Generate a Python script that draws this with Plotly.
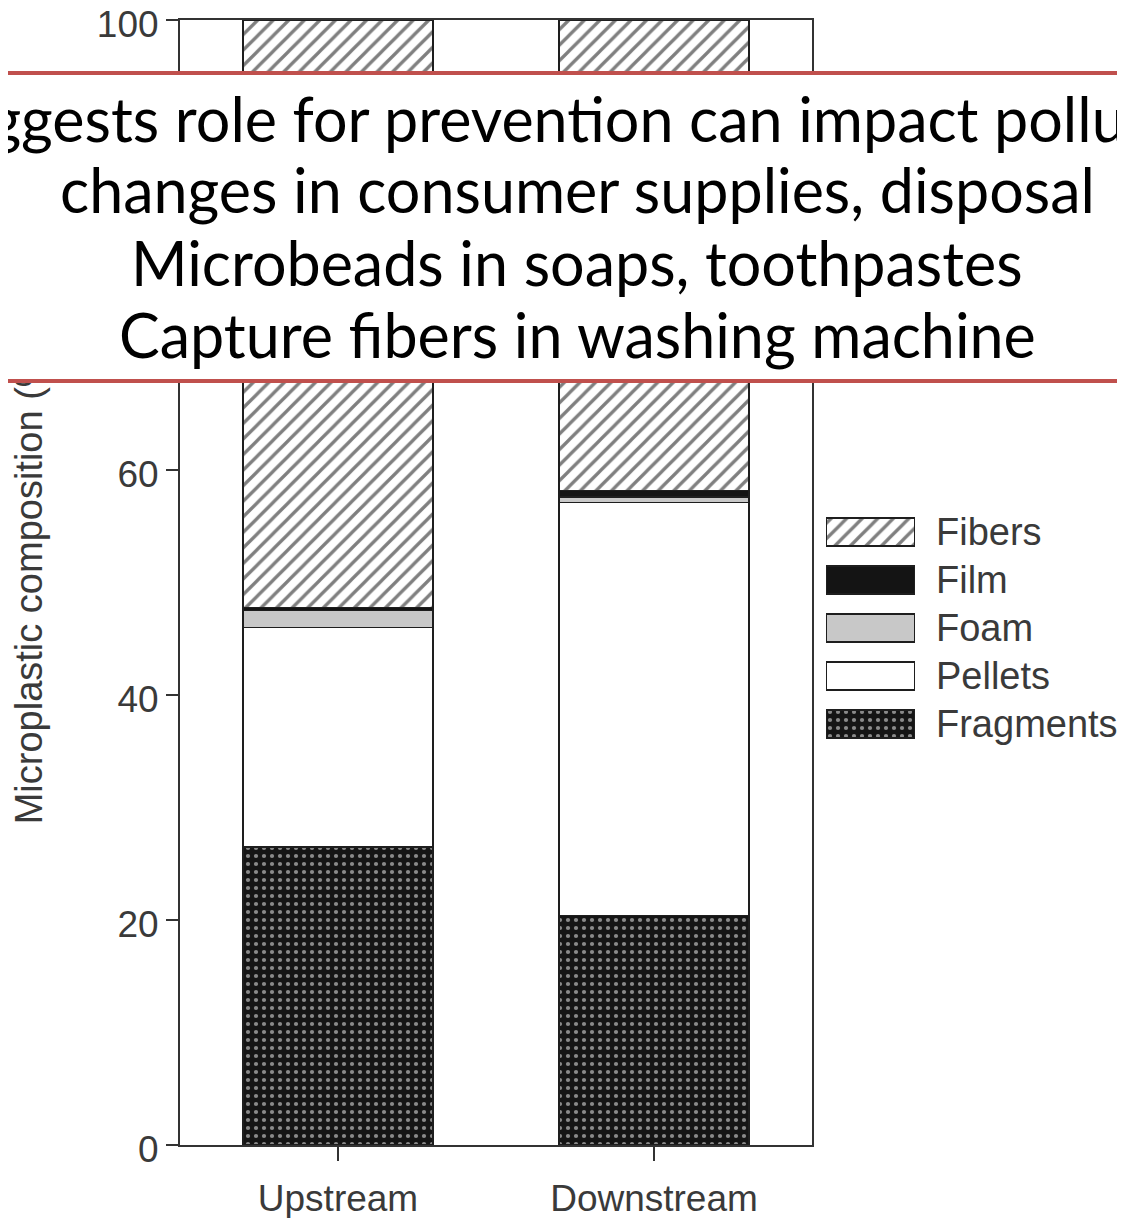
import plotly.graph_objects as go

# ---- data ----
sites = ["Upstream", "Downstream"]
types = ["Fragments", "Pellets", "Foam", "Film", "Fibers"]
fragments = [26.5, 20.4]
pellets = [19.5, 36.7]
foam = [1.5, 0.5]
film = [0.3, 0.6]
fibers = [52.2, 41.8]
values = {"Fragments": fragments, "Pellets": pellets, "Foam": foam, "Film": film, "Fibers": fibers}
y_ticks = [0, 20, 40, 60, 80, 100]
overlay_lines = [
    "Suggests role for prevention can impact pollution",
    "changes in consumer supplies, disposal",
    "Microbeads in soaps, toothpastes",
    "Capture fibers in washing machine",
]

# ---- styles ----
edge = "#1e1e1e"
styles = {
    "Fragments": dict(color="#151515", pattern=dict(shape=".", bgcolor="#151515", fgcolor="#ffffff", size=8, solidity=0.22)),
    "Pellets": dict(color="white"),
    "Foam": dict(color="#c8c8c8"),
    "Film": dict(color="#141414"),
    "Fibers": dict(color="white", pattern=dict(shape="/", bgcolor="white", fgcolor="#000000", size=11, solidity=0.3)),
}

OFF = 8  # page body margin
W, H = 1125 - OFF, 1218 - OFF
ml, mr, mt, mb = 180 - OFF, 5, 20 - OFF, 73
pw = W - ml - mr
ph = H - mt - mb

def px_x(x):  # page pixel -> paper x
    return (x - OFF - ml) / pw

def px_y(y):  # page pixel -> paper y
    return (H - mb - (y - OFF)) / ph

fig = go.Figure()
for t in types:
    fig.add_trace(go.Bar(
        x=sites, y=values[t], name=t, width=0.6,
        marker=dict(**styles[t], line=dict(color=edge, width=1.5)),
        showlegend=False, xaxis="x", yaxis="y",
    ))

# custom legend as a small horizontal bar axis
for t in types:
    fig.add_trace(go.Bar(
        x=[1], y=[t], orientation="h", width=0.58,
        marker=dict(**styles[t], line=dict(color=edge, width=1.5)),
        showlegend=False, xaxis="x2", yaxis="y2", hoverinfo="skip",
    ))

tickfont = dict(family="Liberation Sans, Arial", size=37, color="#3a3a3a")
fig.update_layout(
    width=W, height=H,
    margin=dict(l=ml, r=mr, t=mt, b=mb, autoexpand=False),
    plot_bgcolor="white", paper_bgcolor="white",
    barmode="stack", bargap=0.4,
    xaxis=dict(domain=[0, px_x(812)], range=[-0.5, 1.5], showline=True, mirror=True,
               linecolor="#333", linewidth=2, ticks="outside", ticklen=14, tickwidth=2,
               tickcolor="#333", tickfont=tickfont, showgrid=False, zeroline=False,
               ticklabelstandoff=6, automargin=False),
    yaxis=dict(domain=[0, 1], range=[0, 100], tickvals=y_ticks, showline=True, mirror=True,
               linecolor="#333", linewidth=2, ticks="outside", ticklen=12, tickwidth=2,
               tickcolor="#333", tickfont=tickfont, showgrid=False, zeroline=False,
               ticklabeloverflow="allow", automargin=False, ticklabelshift=4,
               title=dict(text="Microplastic composition (%)",
                          font=dict(family="Liberation Sans, Arial", size=38, color="#3a3a3a"),
                          standoff=58)),
    xaxis2=dict(domain=[px_x(826), px_x(915)], range=[0, 1], visible=False, anchor="y2",
                automargin=False),
    yaxis2=dict(domain=[px_y(748), px_y(508)], anchor="x2", side="right",
                categoryorder="array", categoryarray=types, range=[-0.5, 4.5],
                showline=False, showgrid=False, zeroline=False, ticks="", automargin=False,
                ticklabelstandoff=20, tickfont=dict(family="Liberation Sans, Arial", size=38, color="#3a3a3a")),
)

# overlay text box (white box with red top/bottom rules), drawn above the axis title
y_top, y_bot = 73, 381
fig.add_annotation(text=" ", xref="paper", yref="paper", x=px_x(562), y=px_y((y_top + y_bot) / 2),
                   xanchor="center", yanchor="middle", showarrow=False,
                   width=1400, height=y_bot - y_top - 4, bgcolor="white",
                   bordercolor="#C0504D", borderwidth=4, borderpad=0)
for i, line in enumerate(overlay_lines):
    fig.add_annotation(text=line, xref="paper", yref="paper", x=px_x(577), y=px_y(118 + 72 * i),
                       xanchor="center", yanchor="middle", showarrow=False,
                       font=dict(family="Lato", size=61, color="black"))

fig.write_html("out.html")
